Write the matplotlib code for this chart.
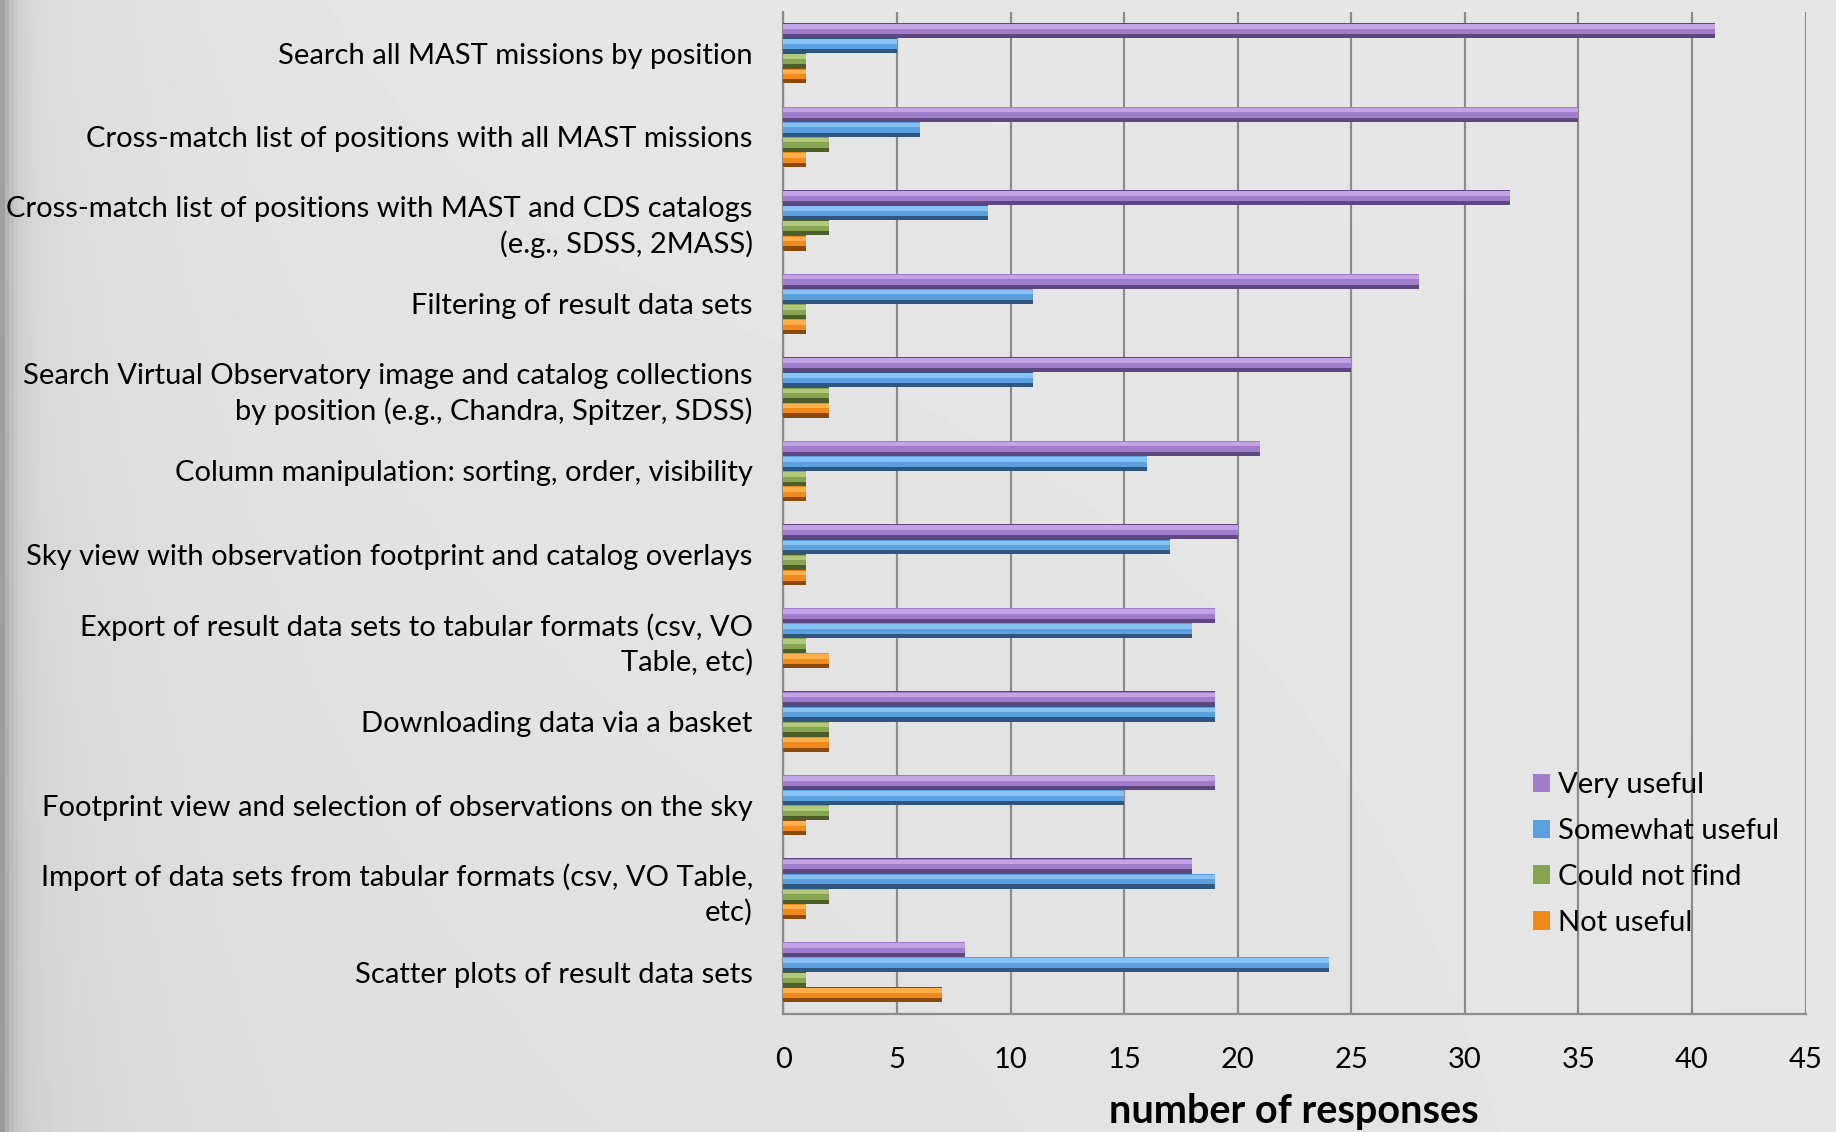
import numpy as np
import matplotlib
matplotlib.use('Agg')
import matplotlib.pyplot as plt
from matplotlib.patches import Patch

features = [
    'Search all MAST missions by position',
    'Cross-match list of positions with all MAST missions',
    'Cross-match list of positions with MAST and CDS catalogs\n(e.g., SDSS, 2MASS)',
    'Filtering of result data sets',
    'Search Virtual Observatory image and catalog collections\nby position (e.g., Chandra, Spitzer, SDSS)',
    'Column manipulation: sorting, order, visibility',
    'Sky view with observation footprint and catalog overlays',
    'Export of result data sets to tabular formats (csv, VO\nTable, etc)',
    'Downloading data via a basket',
    'Footprint view and selection of observations on the sky',
    'Import of data sets from tabular formats (csv, VO Table,\netc)',
    'Scatter plots of result data sets',
]
very_useful = [41, 35, 32, 28, 25, 21, 20, 19, 19, 19, 18, 8]
somewhat_useful = [5, 6, 9, 11, 11, 16, 17, 18, 19, 15, 19, 24]
could_not_find = [1, 2, 2, 1, 2, 1, 1, 1, 2, 2, 2, 1]
not_useful = [1, 1, 1, 1, 2, 1, 1, 2, 2, 1, 1, 7]

series_names = ['Very useful', 'Somewhat useful', 'Could not find', 'Not useful']
series_values = [very_useful, somewhat_useful, could_not_find, not_useful]
# (light top, base, dark bottom) per series
shades = [
    ('#c3a3e6', '#9f7dcb', '#5e4780'),
    ('#86c2f5', '#5ca0e0', '#2f5680'),
    ('#b0c97a', '#87a451', '#4d5e2c'),
    ('#ffb04a', '#f08a1c', '#8a4a0c'),
]

plt.rcParams['font.family'] = ['Lato', 'DejaVu Sans']

fig = plt.figure(figsize=(18.36, 11.32), dpi=100)

# background: light grey with a darker left edge
bg = fig.add_axes([0, 0, 1, 1], zorder=-10)
xx = np.linspace(0, 1, 400)
yy = np.linspace(0, 1, 250)
gx, gy = np.meshgrid(xx, yy)
shade = 0.90 - 0.22 * np.exp(-gx / 0.006) - 0.05 * np.exp(-gx / 0.08) - 0.03 * gy * (1 - gx)
bg.imshow(shade, cmap='gray', vmin=0, vmax=1, aspect='auto', extent=[0, 1, 0, 1])
bg.axis('off')

ax = fig.add_axes([0.4267, 0.1044, 0.9834 - 0.4267, 0.9897 - 0.1044])
ax.patch.set_alpha(0)
ax.set_axisbelow(True)

n = len(features)
pos = np.arange(n)[::-1]
bar_h = 0.18
for k, (name, vals) in enumerate(zip(series_names, series_values)):
    y = pos + 1.5 * bar_h - k * bar_h
    light, base, dark = shades[k]
    ax.barh(y, vals, height=bar_h, color=dark, zorder=3)
    ax.barh(y + bar_h * 0.12, vals, height=bar_h * 0.7, color=base, zorder=3)
    ax.barh(y + bar_h * 0.28, vals, height=bar_h * 0.3, color=light, zorder=3)

ax.set_xlim(0, 45)
ax.set_ylim(-0.5, n - 0.5)
ax.set_xticks(range(0, 46, 5))
ax.set_yticks(pos)
ax.set_yticklabels(features, fontsize=21, ha='right', linespacing=1.35)
ax.tick_params(axis='x', labelsize=21, length=0, pad=24)
ax.tick_params(axis='y', length=0, pad=22)
ax.grid(axis='x', color='#8c8c8c', linewidth=1.6, zorder=1)
for side in ['top', 'right']:
    ax.spines[side].set_visible(False)
for side in ['left', 'bottom']:
    ax.spines[side].set_color('#8c8c8c')
    ax.spines[side].set_linewidth(1.6)

handles = [Patch(facecolor=shades[k][1]) for k in range(4)]
ax.legend(handles, series_names, loc='upper left', bbox_to_anchor=(0.8285, 0.328),
          bbox_transform=fig.transFigure, frameon=False, fontsize=21,
          handlelength=0.6, handleheight=0.6, handletextpad=0.25,
          labelspacing=0.68, borderaxespad=0)

fig.text(0.7047, 0.0177, 'number of responses', fontsize=28.5, fontweight='bold',
         ha='center', va='center')

fig.savefig('out.png', dpi=100)
